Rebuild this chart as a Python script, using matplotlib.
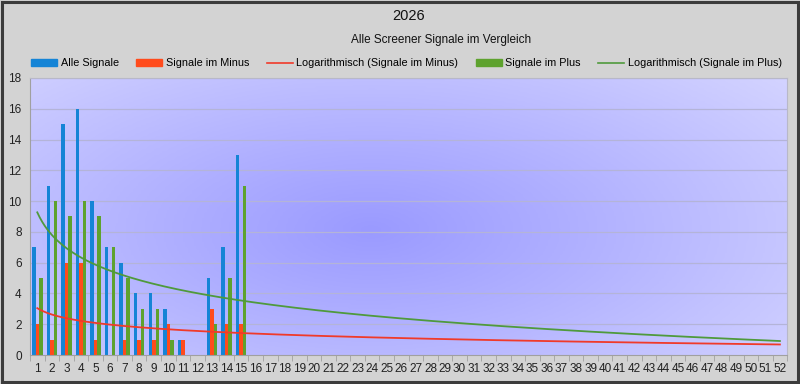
import numpy as np
import matplotlib
matplotlib.use('Agg')
import matplotlib.pyplot as plt
from matplotlib.patches import Rectangle
from matplotlib.lines import Line2D
from matplotlib.colors import LinearSegmentedColormap

plt.rcParams['font.family'] = ['Liberation Sans', 'DejaVu Sans']

# Kalenderwochen
weeks = list(range(1, 53))
data_weeks = list(range(1, 16))

alle_signale = [7, 11, 15, 16, 10, 7, 6, 4, 4, 3, 1, 0, 5, 7, 13]
signale_minus = [2, 1, 6, 6, 1, 0, 1, 1, 1, 2, 1, 0, 3, 2, 2]
signale_plus = [5, 10, 9, 10, 9, 7, 5, 3, 3, 1, 0, 0, 2, 5, 11]

C_ALLE = '#1584d6'
C_MINUS = '#ff4b1c'
C_PLUS = '#5ea22e'
C_TR_MINUS = '#f03a2a'
C_TR_PLUS = '#4f9a3c'

fig = plt.figure(figsize=(8, 3.84), dpi=100)
fig.patch.set_facecolor('#d3d3d3')
fig.patches.append(Rectangle((0.002, 0.004), 0.996, 0.992, transform=fig.transFigure,
                             fill=False, edgecolor='#3c3c3c', linewidth=2.2))

ax = fig.add_axes([0.0375, 0.0755, 0.9465, 0.7215])
ax.set_xlim(0.5, 52.5)
ax.set_ylim(0, 18)

# Hintergrund mit radialem Verlauf
gx, gy = np.meshgrid(np.linspace(0, 1, 300), np.linspace(0, 1, 150))
r = np.sqrt(((gx - 0.45) / 0.75) ** 2 + ((gy - 0.45) / 0.9) ** 2)
r = np.clip(r, 0, 1)
cmap = LinearSegmentedColormap.from_list('bg', ['#9a9aff', '#d6d6ff'])
ax.imshow(r, cmap=cmap, extent=[0, 1, 0, 1], transform=ax.transAxes,
          aspect='auto', origin='lower', zorder=0, vmin=0, vmax=1)

for yv in range(2, 19, 2):
    ax.axhline(yv, color='#b4b4d8', linewidth=0.9, zorder=1)

x = np.array(data_weeks)
w = 0.24
ax.bar(x - w, alle_signale, w, color=C_ALLE, zorder=2, label='Alle Signale')
ax.bar(x, signale_minus, w, color=C_MINUS, zorder=2, label='Signale im Minus')
ax.bar(x + w, signale_plus, w, color=C_PLUS, zorder=2, label='Signale im Plus')

# logarithmische Trendlinien
xt = np.linspace(1, 52, 300)
b_m, a_m = np.polyfit(np.log(x), signale_minus, 1)
b_p, a_p = np.polyfit(np.log(x), signale_plus, 1)
ax.plot(xt, a_m + b_m * np.log(xt), color=C_TR_MINUS, linewidth=1.3, zorder=3)
ax.plot(xt, a_p + b_p * np.log(xt), color=C_TR_PLUS, linewidth=1.3, zorder=3)

ax.set_xticks(weeks)
ax.set_xticklabels([str(k) for k in weeks], fontsize=8.5, color='#222222')
ax.set_xticks(np.arange(0.5, 53, 1), minor=True)
ax.tick_params(axis='x', which='major', length=0, pad=6)
ax.tick_params(axis='x', which='minor', length=4, color='#a0a0a0')
ax.set_yticks(range(0, 19, 2))
ax.tick_params(axis='y', labelsize=8.5, length=0, pad=6, labelcolor='#222222')
for s in ax.spines.values():
    s.set_color('#b8b8c8')
ax.spines['bottom'].set_color('#a0a0a0')
ax.spines['left'].set_color('#a0a0a0')

fig.text(0.511, 0.958, '2026', ha='center', va='center', fontsize=10.5, color='#111111')
fig.text(0.551, 0.895, 'Alle Screener Signale im Vergleich', ha='center', va='center',
         fontsize=8.5, color='#111111')

handles = [
    Rectangle((0, 0), 1, 1, color=C_ALLE),
    Rectangle((0, 0), 1, 1, color=C_MINUS),
    Line2D([], [], color=C_TR_MINUS, linewidth=1.2),
    Rectangle((0, 0), 1, 1, color=C_PLUS),
    Line2D([], [], color=C_TR_PLUS, linewidth=1.2),
]
labels = ['Alle Signale', 'Signale im Minus', 'Logarithmisch (Signale im Minus)',
          'Signale im Plus', 'Logarithmisch (Signale im Plus)']
fig.legend(handles, labels, loc='center', bbox_to_anchor=(0.508, 0.835), ncol=5,
           frameon=False, fontsize=7.8, handlelength=2.4, handleheight=0.6,
           columnspacing=1.6, handletextpad=0.35)

plt.savefig('out.png', dpi=100, facecolor=fig.get_facecolor())
